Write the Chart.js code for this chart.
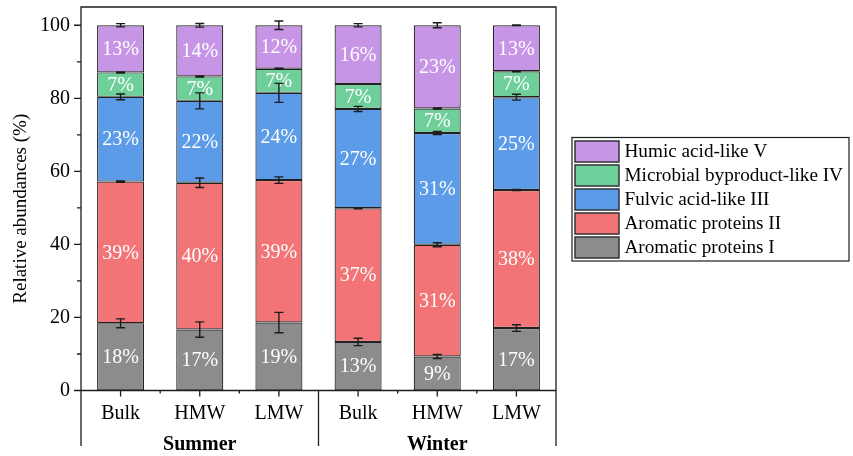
<!DOCTYPE html>
<html>
<head>
<meta charset="utf-8">
<script src="https://cdn.jsdelivr.net/npm/chart.js@4/dist/chart.umd.min.js"></script>
<style>
  html, body { margin: 0; padding: 0; background: #fff; }
  #wrap { width: 853px; height: 456px; }
</style>
</head>
<body>
<div id="wrap"><canvas id="c" width="853" height="456"></canvas></div>
<script>
// Fraction categories, grouped by season
const categories = ['Bulk', 'HMW', 'LMW', 'Bulk', 'HMW', 'LMW'];
const seasons = ['Summer', 'Winter'];

// Component names (bottom to top of each stack)
const seriesNames = ['Aromatic proteins I', 'Aromatic proteins II', 'Fulvic acid-like III',
                     'Microbial byproduct-like IV', 'Humic acid-like V'];

// Relative abundances (%)
const aromaticI   = [18.4, 16.7, 18.6, 13.3,  9.3, 17.1];
const aromaticII  = [38.8, 40.2, 39.0, 36.6, 30.6, 37.8];
const fulvicIII   = [23.2, 22.4, 23.9, 27.2, 30.6, 25.4];
const microbialIV = [ 6.7,  6.7,  6.6,  6.8,  6.7,  7.1];
const humicV      = [12.9, 14.0, 11.9, 16.1, 22.8, 12.6];

// Standard deviations (shown at the top of each segment)
const errI   = [1.2, 2.1, 2.8, 1.0, 0.55, 0.9];
const errII  = [0.2, 1.3, 0.9, 0.15, 0.55, 0.15];
const errIII = [0.8, 2.2, 2.6, 0.7, 0.4, 0.8];
const errIV  = [0.15, 0.15, 0.15, 0.0, 0.15, 0.15];
const errV   = [0.45, 0.5, 1.15, 0.45, 0.7, 0.1];

// Axis ticks
const yTicks = [0, 20, 40, 60, 80, 100];
const yMinorTicks = [10, 30, 50, 70, 90];

const seriesValues = [aromaticI, aromaticII, fulvicIII, microbialIV, humicV];
const seriesErrors = [errI, errII, errIII, errIV, errV];
const seriesColors = ['#8c8c8c', '#f27476', '#5b9be8', '#6ecf9b', '#c795e6'];

const SERIF = '"Liberation Serif", "Times New Roman", serif';
const INK = '#1c1c1c';

const overlay = {
  id: 'overlay',
  afterDatasetsDraw(chart) {
    const ctx = chart.ctx;
    const xs = chart.scales.x, ys = chart.scales.y;
    ctx.save();
    // value labels, centred in each segment
    ctx.fillStyle = '#ffffff';
    ctx.font = '20px ' + SERIF;
    ctx.textAlign = 'center';
    ctx.textBaseline = 'middle';
    categories.forEach((c, j) => {
      let base = 0;
      seriesValues.forEach((vals) => {
        const v = vals[j];
        const yc = ys.getPixelForValue(base + v / 2);
        ctx.fillText(Math.round(v) + '%', xs.getPixelForValue(j), yc + 1);
        base += v;
      });
    });
    // error bars at each segment top
    ctx.strokeStyle = INK;
    ctx.lineWidth = 1.4;
    categories.forEach((c, j) => {
      let top = 0;
      seriesValues.forEach((vals, i) => {
        top += vals[j];
        const e = seriesErrors[i][j];
        if (e <= 0) return;
        const x = xs.getPixelForValue(j);
        const y1 = ys.getPixelForValue(top + e);
        const y2 = ys.getPixelForValue(top - e);
        ctx.beginPath();
        ctx.moveTo(x, y1); ctx.lineTo(x, y2);
        ctx.moveTo(x - 4.5, y1); ctx.lineTo(x + 4.5, y1);
        ctx.moveTo(x - 4.5, y2); ctx.lineTo(x + 4.5, y2);
        ctx.stroke();
      });
    });
    ctx.restore();
  },
  afterDraw(chart) {
    const ctx = chart.ctx;
    const xs = chart.scales.x, ys = chart.scales.y;
    const a = chart.chartArea;
    const bottomEdge = 446;
    ctx.save();
    ctx.strokeStyle = INK;
    ctx.lineWidth = 1.3;
    // frame
    ctx.beginPath();
    ctx.moveTo(a.left, bottomEdge); ctx.lineTo(a.left, a.top);
    ctx.lineTo(a.right, a.top); ctx.lineTo(a.right, bottomEdge);
    ctx.moveTo(a.left - 7, a.bottom); ctx.lineTo(a.right, a.bottom);
    // season separator
    const sep = (xs.getPixelForValue(2) + xs.getPixelForValue(3)) / 2;
    ctx.moveTo(sep, a.bottom); ctx.lineTo(sep, bottomEdge);
    // y ticks
    yTicks.forEach(v => { const y = ys.getPixelForValue(v); ctx.moveTo(a.left - 7, y); ctx.lineTo(a.left, y); });
    yMinorTicks.forEach(v => { const y = ys.getPixelForValue(v); ctx.moveTo(a.left - 4, y); ctx.lineTo(a.left, y); });
    // x ticks: major at categories, minor between them
    categories.forEach((c, j) => {
      const x = xs.getPixelForValue(j);
      ctx.moveTo(x, a.bottom); ctx.lineTo(x, a.bottom + 6);
      if (j > 0 && j !== 3) {
        const xm = (xs.getPixelForValue(j - 1) + x) / 2;
        ctx.moveTo(xm, a.bottom); ctx.lineTo(xm, a.bottom + 3);
      }
    });
    ctx.stroke();

    // season labels
    ctx.fillStyle = '#000';
    ctx.font = 'bold 20px ' + SERIF;
    ctx.textAlign = 'center';
    ctx.textBaseline = 'middle';
    seasons.forEach((s, k) => {
      ctx.fillText(s, xs.getPixelForValue(k * 3 + 1), 445);
    });

    // y axis title
    ctx.save();
    ctx.translate(21, (a.top + a.bottom) / 2 + 10);
    ctx.rotate(-Math.PI / 2);
    ctx.font = '19px ' + SERIF;
    ctx.fillText('Relative abundances (%)', 0, 0);
    ctx.restore();

    // legend (top entry = top of stack)
    const lx = 572, ly = 137.5, lw = 277, lh = 123.5;
    ctx.lineWidth = 1.2;
    ctx.strokeStyle = INK;
    ctx.strokeRect(lx, ly, lw, lh);
    ctx.font = '19.2px ' + SERIF;
    ctx.textAlign = 'left';
    ctx.textBaseline = 'middle';
    for (let r = 0; r < seriesNames.length; r++) {
      const i = seriesNames.length - 1 - r;
      const sy = ly + 3.5 + r * 24;
      ctx.fillStyle = seriesColors[i];
      ctx.fillRect(lx + 3, sy, 44, 21);
      ctx.lineWidth = 1.5;
      ctx.strokeStyle = '#333';
      ctx.strokeRect(lx + 3, sy, 44, 21);
      ctx.fillStyle = '#000';
      ctx.fillText(seriesNames[i], lx + 52.5, sy + 11);
    }
    ctx.restore();
  }
};

new Chart(document.getElementById('c').getContext('2d'), {
  type: 'bar',
  data: {
    labels: categories,
    datasets: seriesNames.map((name, i) => ({
      label: name,
      data: seriesValues[i],
      backgroundColor: seriesColors[i],
      borderColor: '#222',
      borderWidth: 1.2,
      borderSkipped: false,
      barPercentage: 0.594,
      categoryPercentage: 1.0
    }))
  },
  options: {
    responsive: false,
    animation: false,
    devicePixelRatio: 1,
    layout: { padding: { left: 0, right: 297, top: 7, bottom: 0 } },
    plugins: { legend: { display: false }, tooltip: { enabled: false } },
    scales: {
      x: {
        stacked: true,
        grid: { display: false, drawTicks: false },
        border: { display: false },
        ticks: { font: { family: SERIF, size: 20 }, color: '#000', padding: 11, maxRotation: 0, autoSkip: false },
        afterFit(s) { s.height = 65.5; s.paddingLeft = 0; s.paddingRight = 0; }
      },
      y: {
        stacked: true,
        min: 0,
        max: 105,
        grid: { display: false, drawTicks: false },
        border: { display: false },
        ticks: { font: { family: SERIF, size: 20 }, color: '#000', padding: 11 },
        afterBuildTicks(s) { s.ticks = yTicks.map(v => ({ value: v })); },
        afterFit(s) { s.width = 81; s.paddingTop = 0; s.paddingBottom = 0; }
      }
    }
  },
  plugins: [overlay]
});
</script>
</body>
</html>
